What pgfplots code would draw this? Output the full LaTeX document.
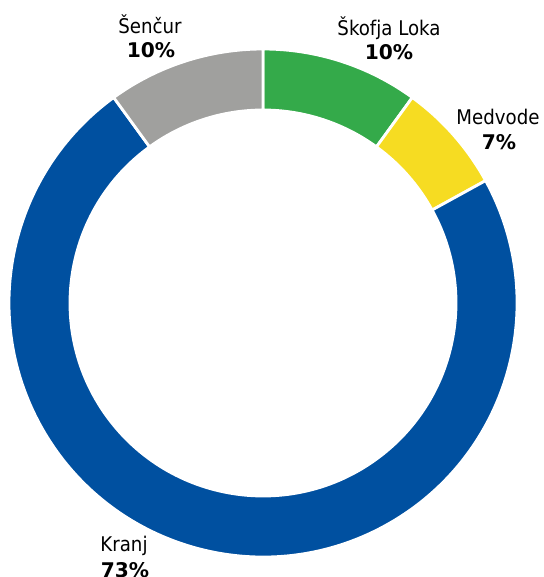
\documentclass[border=0pt]{standalone}
\usepackage{pgfplots}
\pgfplotsset{compat=1.18}
\usepackage{fontspec}
\setmainfont{DejaVu Sans Condensed}
\newfontfamily\pctfont{DejaVu Sans}[BoldFont={DejaVu Sans Bold}]

\definecolor{cSko}{RGB}{52,170,74}
\definecolor{cMed}{RGB}{246,220,34}
\definecolor{cKra}{RGB}{0,80,160}
\definecolor{cSen}{RGB}{160,160,158}

% ring radii in cm (axis units are 1cm)
\def\Ro{5.08}
\def\Ri{3.86}

% #1 = cumulative share before, #2 = cumulative share after (in %), #3 = colour
\newcommand{\ringseg}[3]{%
  \fill[#3, draw=white, line width=1.6pt, line join=miter]
    ([shift={({90-3.6*#1}:\Ro cm)}]axis cs:0,0)
      arc[start angle={90-3.6*#1}, end angle={90-3.6*#2}, radius=\Ro cm]
    -- ([shift={({90-3.6*#2}:\Ri cm)}]axis cs:0,0)
      arc[start angle={90-3.6*#2}, end angle={90-3.6*#1}, radius=\Ri cm]
    -- cycle;}

\begin{document}
\begin{tikzpicture}
\begin{axis}[
    x=1cm, y=1cm,
    xmin=-5.26, xmax=5.60,
    ymin=-5.48, ymax=6.06,
    hide axis,
    clip=false
]
    % shares: Škofja Loka 10, Medvode 7, Kranj 73, Šenčur 10
    \ringseg{0}{10}{cSko}
    \ringseg{10}{17}{cMed}
    \ringseg{17}{90}{cKra}
    \ringseg{90}{100}{cSen}

    \tikzset{lab/.style={font=\fontsize{11.5}{13}\selectfont, inner sep=0pt},
             pct/.style={font=\pctfont\bfseries\fontsize{11.5}{13}\selectfont, inner sep=0pt}}
    \node[lab] at (axis cs:-2.26,5.58) {Šenčur};
    \node[pct] at (axis cs:-2.24,5.06) {10\%};
    \node[lab] at (axis cs:2.52,5.50) {Škofja Loka};
    \node[pct] at (axis cs:2.52,5.02) {10\%};
    \node[lab] at (axis cs:4.70,3.72) {Medvode};
    \node[pct] at (axis cs:4.72,3.22) {7\%};
    \node[lab] at (axis cs:-2.78,-4.86) {Kranj};
    \node[pct] at (axis cs:-2.76,-5.34) {73\%};
\end{axis}
\pgfresetboundingbox
\path[use as bounding box] (current axis.south west) rectangle (current axis.north east);
\end{tikzpicture}
\end{document}
